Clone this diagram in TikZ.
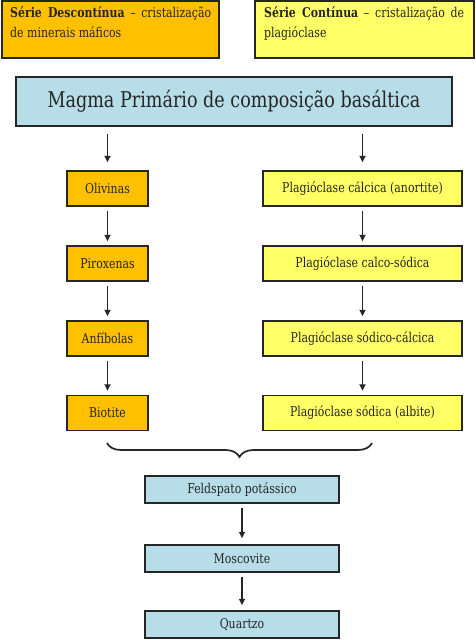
\documentclass[tikz,border=0pt]{standalone}
\usepackage{fontspec}
\setmainfont{DejaVu Serif}[FakeStretch=0.81]
\usetikzlibrary{arrows.meta,decorations.pathreplacing}
\definecolor{orangebox}{HTML}{FFC000}
\definecolor{yellowbox}{HTML}{FFFF66}
\definecolor{bluebox}{HTML}{B7DEE8}
\definecolor{ink}{HTML}{262626}
\begin{document}
\begin{tikzpicture}[x=1pt,y=-1pt,
  box/.style={draw=ink, line width=1.5pt, inner sep=0pt, text=ink, font=\fontsize{13.5}{16}\selectfont},
  obox/.style={box, fill=orangebox, minimum width=81pt, minimum height=35pt},
  ybox/.style={box, fill=yellowbox, minimum width=199pt, minimum height=35pt},
  bbox/.style={box, fill=bluebox, minimum width=194pt, minimum height=27pt},
  topbox/.style={box, line width=1.8pt, minimum height=57pt},
  toptext/.style={anchor=north west, inner sep=0pt, align=justify, text=ink, font=\fontsize{13.5}{20.5}\selectfont},
  arr/.style={-{Triangle[length=6.5pt,width=6pt]}, line width=1.7pt, draw=ink, shorten >=4pt, shorten <=4pt},
  bracestyle/.style={draw=ink, line width=1.7pt, decorate, decoration={brace, mirror, amplitude=14pt}}
]
\useasboundingbox (0,0) rectangle (475,640);
\fill[white] (0,0) rectangle (475,640);

% top legend boxes
\node[topbox, fill=orangebox, minimum width=217pt] (tl) at (110.5,29.5) {};
\node[toptext, text width=201pt] (tlt) at (10,6.5) {\textbf{Série Descontínua} – cristalização\linebreak de minerais máficos};
\node[topbox, fill=yellowbox, minimum width=219pt] (tr) at (364.5,29.5) {};
\node[toptext, text width=200pt] (trt) at (264,6.5) {\textbf{Série Contínua} – cristalização de\linebreak plagióclase};

% magma
\node[box, fill=bluebox, minimum width=436pt, minimum height=49pt, font=\fontsize{21.7}{25}\selectfont] (magma) at (234,101.5) {Magma Primário de composição basáltica};

% left column
\node[obox] (ol) at (107.5,188.5) {Olivinas};
\node[obox] (px) at (107.5,263.5) {Piroxenas};
\node[obox] (an) at (107.5,338.5) {Anfíbolas};
\node[obox] (bi) at (107.5,413) {Biotite};

% right column
\node[ybox] (p1) at (362.5,188.5) {Plagióclase cálcica (anortite)};
\node[ybox] (p2) at (362.5,263.5) {Plagióclase calco-sódica};
\node[ybox] (p3) at (362.5,338.5) {Plagióclase sódico-cálcica};
\node[ybox] (p4) at (362.5,413) {Plagióclase sódica (albite)};

% bottom column
\node[bbox] (fk) at (242,489.5) {Feldspato potássico};
\node[bbox] (mo) at (242,558.5) {Moscovite};
\node[bbox] (qz) at (242,624.5) {Quartzo};

% arrows
\draw[arr, shorten <=7pt, shorten >=8pt] (magma.south -| ol) -- (ol.north);
\draw[arr, shorten <=7pt, shorten >=8pt] (magma.south -| p1) -- (p1.north);
\draw[arr] (ol) -- (px);
\draw[arr] (px) -- (an);
\draw[arr] (an) -- (bi);
\draw[arr] (p1) -- (p2);
\draw[arr] (p2) -- (p3);
\draw[arr] (p3) -- (p4);
\draw[arr, shorten >=6pt] (fk) -- (mo);
\draw[arr, shorten >=5pt] (mo) -- (qz);

% brace
\coordinate (bl) at (107,443);
\coordinate (br) at (372,443);
\draw[bracestyle] (bl) -- (br);
\end{tikzpicture}
\end{document}
